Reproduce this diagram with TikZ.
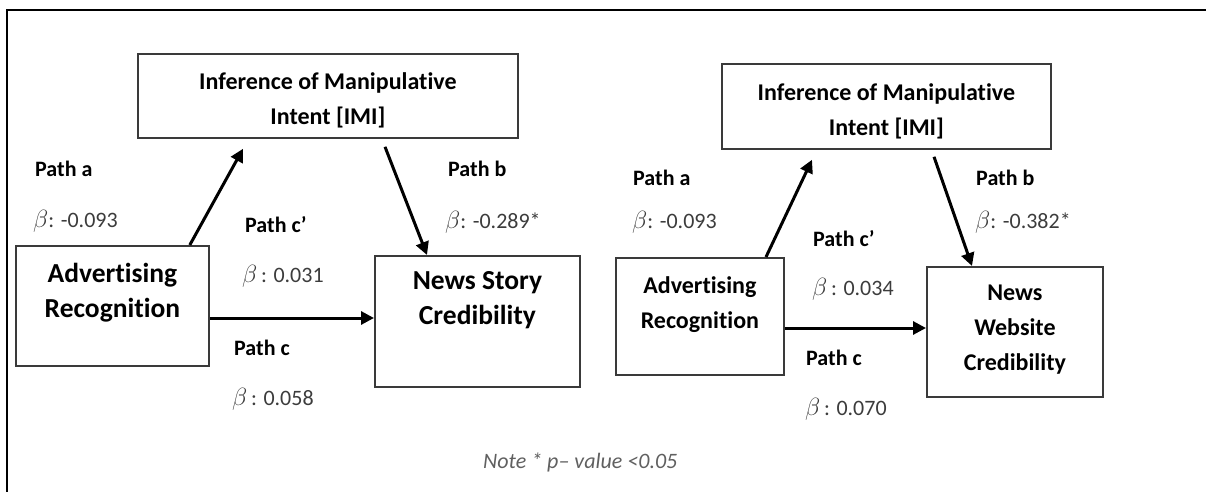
\documentclass[tikz,border=0pt]{standalone}
\usepackage{fontspec}
\setmainfont{Carlito}[Ligatures=CommonOff]
\usetikzlibrary{calc,arrows.meta}
\definecolor{boxgray}{HTML}{3A3A3A}
\definecolor{betagray}{HTML}{3C3C3C}
\definecolor{notegray}{HTML}{606060}
\newcommand\betasym{{\fontsize{27}{24}\selectfont$\beta$}}
\begin{document}
\begin{tikzpicture}[x=1pt,y=-1pt,
  box/.style={draw=boxgray,line width=1.8pt,inner sep=0pt,anchor=north west},
  boxtext/.style={anchor=north,align=center,inner sep=0pt,
    font=\bfseries\fontsize{24}{35}\selectfont},
  bigboxtext/.style={boxtext,font=\bfseries\fontsize{27.5}{35}\selectfont},
  pathlbl/.style={anchor=base west,inner sep=0pt,font=\bfseries\fontsize{22}{24}\selectfont},
  betalbl/.style={anchor=base west,inner sep=0pt,text=betagray,font=\fontsize{22}{24}\selectfont},
  arr/.style={-{Triangle[length=13pt,width=13pt]},line width=3pt}]
\useasboundingbox (0,0) rectangle (1206,492);
% frame
\draw[line width=1.6pt] (7,492) -- (7,10) -- (1206,10);

% ---------- left model: news story ----------
\node[box,minimum width=380pt,minimum height=84pt] (imiL) at (137,53) {};
\node[box,minimum width=193pt,minimum height=120pt] (arL) at (15,245) {};
\node[box,minimum width=205pt,minimum height=131pt] (nsL) at (374,255) {};
\node[boxtext] (imiLt) at ($(imiL.north)+(0,19)$) {Inference of Manipulative\\Intent [IMI]};
\node[bigboxtext] (arLt) at ($(arL.north)+(0,18)$) {Advertising\\Recognition};
\node[bigboxtext] (nsLt) at ($(nsL.north)+(0,16)$) {News Story\\Credibility};

\draw[arr] ($(arL.north east)+(-20,0)$) -- ($(imiL.south west)+(106,10)$);
\draw[arr] ($(imiL.south west)+(248,8)$) -- ($(nsL.north west)+(53,0)$);
\draw[arr] ($(arL.north east)+(0,73)$) -- ($(nsL.north west)+(0,63)$);

\node[pathlbl] (paL) at (35,176) {Path a};
\node[betalbl] (baL) at (33,227) {\betasym: -0.093};
\node[pathlbl] (pcpL) at (245,232) {Path c’};
\node[betalbl] (bcpL) at (242,282) {\betasym\,: 0.031};
\node[pathlbl] (pcL) at (234,355) {Path c};
\node[betalbl] (bcL) at (232,405) {\betasym\,: 0.058};
\node[pathlbl] (pbL) at (448,176) {Path b};
\node[betalbl] (bbL) at (445,228) {\betasym: -0.289*};

% ---------- right model: news website ----------
\node[box,minimum width=329pt,minimum height=85pt] (imiR) at (721,63) {};
\node[box,minimum width=168pt,minimum height=117pt] (arR) at (615,257) {};
\node[box,minimum width=176pt,minimum height=130pt] (nwR) at (926,266) {};
\node[boxtext] (imiRt) at ($(imiR.north)+(0,20)$) {Inference of Manipulative\\Intent [IMI]};
\node[boxtext] (arRt) at ($(arR.north)+(0,19)$) {Advertising\\Recognition};
\node[boxtext] (nwRt) at ($(nwR.north)+(0,19)$) {News\\Website\\Credibility};

\draw[arr] ($(arR.north west)+(151,0)$) -- ($(imiR.south west)+(91,10)$);
\draw[arr] ($(imiR.south west)+(213,7)$) -- ($(nwR.north west)+(46,0)$);
\draw[arr] ($(arR.north east)+(0,71)$) -- ($(nwR.north west)+(0,62)$);

\node[pathlbl] (paR) at (633,185) {Path a};
\node[betalbl] (baR) at (632,228) {\betasym: -0.093};
\node[pathlbl] (pcpR) at (813,246) {Path c’};
\node[betalbl] (bcpR) at (812,295) {\betasym\,: 0.034};
\node[pathlbl] (pcR) at (806,365) {Path c};
\node[betalbl] (bcR) at (805,415) {\betasym\,: 0.070};
\node[pathlbl] (pbR) at (976,185) {Path b};
\node[betalbl] (bbR) at (975,228) {\betasym: -0.382*};

% footnote
\node[anchor=base west,inner sep=0pt,text=notegray,font=\itshape\fontsize{22}{24}\selectfont]
  (note) at (483,468) {Note * p– value <0.05};
\end{tikzpicture}
\end{document}
